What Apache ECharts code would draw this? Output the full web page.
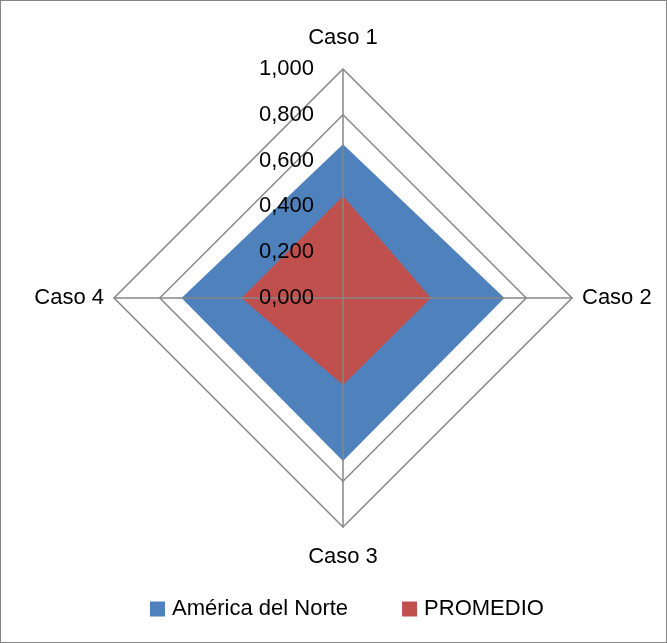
<!DOCTYPE html>
<html><head><meta charset="utf-8">
<script src="https://cdn.jsdelivr.net/npm/echarts@6/dist/echarts.min.js"></script>
<style>
html,body{margin:0;padding:0;background:#fff;}
#c{width:667px;height:643px;box-sizing:border-box;border:1px solid #868686;}
</style></head>
<body><div id="c"></div>
<script>
const categories = ['Caso 1', 'Caso 2', 'Caso 3', 'Caso 4'];
const seriesNames = ['América del Norte', 'PROMEDIO'];
const americaNorte = [0.671, 0.705, 0.712, 0.705];
const promedio = [0.445, 0.384, 0.380, 0.443];
const axisMax = 1;
const colors = ['#4F81BD', '#C0504D'];
const FONT = 'Liberation Sans';

// ECharts radar runs counter-clockwise; reorder so cases go clockwise
const order = [0, 3, 2, 1];
const indicator = order.map((i, k) => {
  const ind = { name: categories[i], min: 0, max: axisMax };
  if (k === 0) ind.axisLabel = { show: true };
  return ind;
});
const reorder = arr => order.map(i => arr[i]);

const chart = echarts.init(document.getElementById('c'));
chart.setOption({
  animation: false,
  color: colors,
  legend: {
    data: seriesNames,
    top: 597,
    left: 149,
    padding: 0,
    itemWidth: 15,
    itemHeight: 15,
    itemGap: 54,
    icon: 'rect',
    textStyle: { fontFamily: FONT, fontSize: 22, color: '#000', padding: [0, 0, 0, 2] }
  },
  radar: {
    z: 3,
    center: [342, 297],
    radius: 229,
    shape: 'polygon',
    splitNumber: 5,
    nameGap: 10,
    axisName: { color: '#000', fontFamily: FONT, fontSize: 22, lineHeight: 40 },
    axisLine: { show: true, lineStyle: { color: '#868686', width: 1.5 } },
    axisTick: { show: false },
    axisLabel: {
      show: false, color: '#000', fontFamily: FONT, fontSize: 22, margin: 29,
      formatter: v => v.toFixed(3).replace('.', ',')
    },
    splitLine: { show: true, lineStyle: { width: 1.5, color: ['rgba(0,0,0,0)', 'rgba(0,0,0,0)', 'rgba(0,0,0,0)', 'rgba(0,0,0,0)', '#868686', '#868686'] } },
    splitArea: { show: false },
    indicator: indicator
  },
  series: [{
    type: 'radar',
    z: 2,
    symbol: 'none',
    lineStyle: { width: 0 },
    data: [
      { name: seriesNames[0], value: reorder(americaNorte), areaStyle: { color: colors[0], opacity: 1 }, itemStyle: { color: colors[0] } },
      { name: seriesNames[1], value: reorder(promedio), areaStyle: { color: colors[1], opacity: 1 }, itemStyle: { color: colors[1] } }
    ]
  }]
});
</script></body></html>
